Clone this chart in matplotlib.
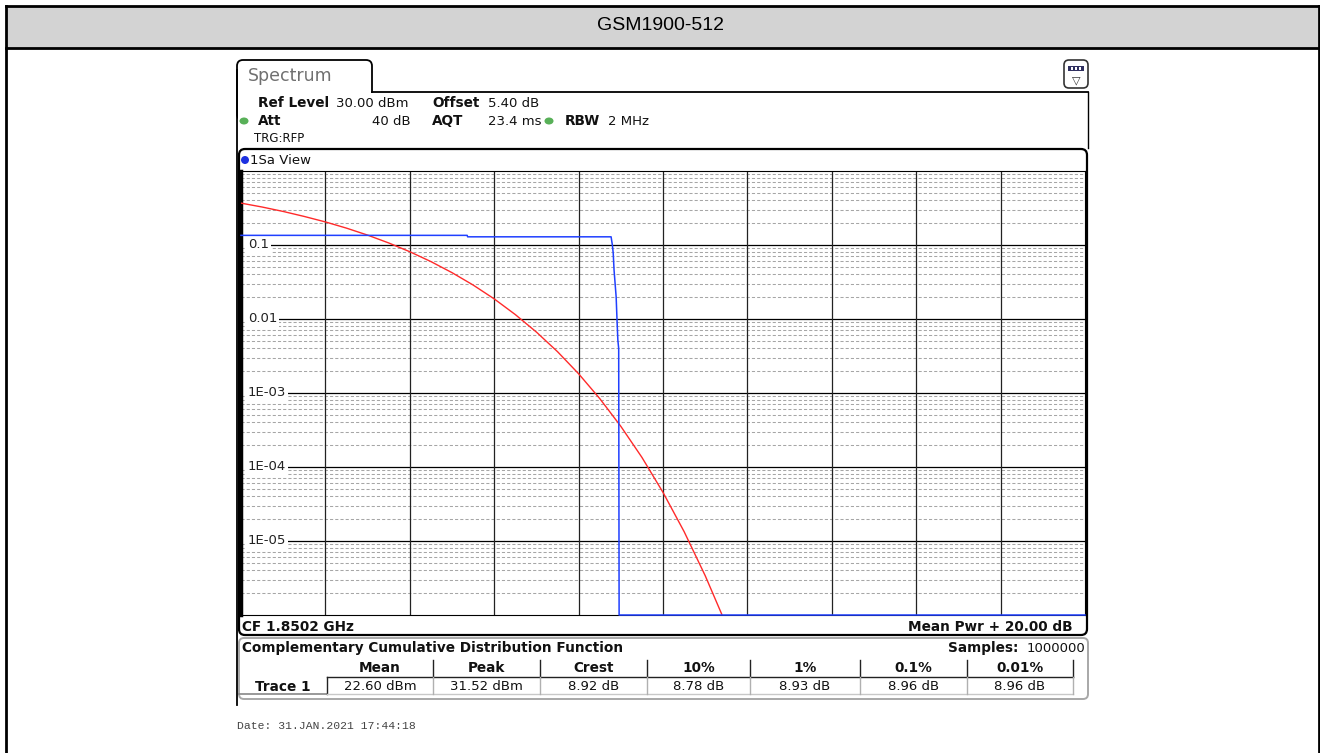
import numpy as np
import matplotlib
matplotlib.use('Agg')
import matplotlib.pyplot as plt
from matplotlib.patches import FancyBboxPatch, Rectangle, Ellipse

# ---- data ----
title = 'GSM1900-512'
x_span_db = 20.0  # Mean Pwr + 20.00 dB across 10 divisions

# gaussian reference curve (red), dB above mean vs probability
gauss_db = [0.0, 0.5, 1.0, 1.5, 2.0, 2.5, 3.0, 3.5, 4.0, 4.5, 5.0, 5.5, 6.0,
            6.5, 7.0, 7.5, 8.0, 8.5, 9.0, 9.5, 10.0, 10.5, 11.0, 11.4]
gauss_p = [0.368, 0.326, 0.284, 0.243, 0.205, 0.169, 0.136, 0.1066, 0.0811,
           0.0597, 0.0423, 0.0288, 0.0187, 0.01148, 0.00666, 0.00362, 0.00182,
           0.000842, 0.000355, 0.000135, 4.54e-05, 1.34e-05, 3.4e-06, 1.0e-06]

# measured trace (blue)
trace_db = [0.0, 5.36, 5.37, 8.77, 8.80, 8.82, 8.84, 8.89, 8.91, 8.93, 8.95, 8.96, 20.0]
trace_p = [0.135, 0.135, 0.129, 0.129, 0.100, 0.078, 0.046, 0.0198, 0.0098,
           0.0052, 0.0040, 1e-06, 1e-06]

ytick_vals = [0.1, 0.01, 1e-3, 1e-4, 1e-5]
ytick_text = ['0.1', '0.01', '1E-03', '1E-04', '1E-05']

col_names = ['Mean', 'Peak', 'Crest', '10%', '1%', '0.1%', '0.01%']
col_values = ['22.60 dBm', '31.52 dBm', '8.92 dB', '8.78 dB', '8.93 dB', '8.96 dB', '8.96 dB']
col_edges = [327, 433, 540, 647, 750, 860, 967, 1073]

W, H = 1320, 753
fig = plt.figure(figsize=(W / 100, H / 100), dpi=100)
cv = fig.add_axes([0, 0, 1, 1])
cv.set_xlim(0, W)
cv.set_ylim(H, 0)
cv.axis('off')

fs = 9.8
bold = dict(fontsize=fs, fontweight='bold', color='#111111', va='center', family='DejaVu Sans')
norm = dict(fontsize=fs - 0.3, color='#111111', va='center', family='DejaVu Sans')

# outer frame and title bar
cv.add_patch(Rectangle((6, 6), 1313, 42, facecolor='#d3d3d3', edgecolor='none'))
cv.plot([6, 1319], [6, 6], color='black', lw=2)
cv.plot([6, 1319], [48, 48], color='black', lw=2)
cv.plot([6, 6], [6, 760], color='black', lw=2)
cv.plot([1319, 1319], [6, 760], color='black', lw=2)
cv.text(660, 25, title, fontsize=14, ha='center', va='center', family='Liberation Sans')

# spectrum tab
cv.add_patch(FancyBboxPatch((237, 60), 135, 60, boxstyle='round,pad=0,rounding_size=6',
                            facecolor='white', edgecolor='black', lw=1.3))
cv.add_patch(Rectangle((238, 93), 850, 40, facecolor='white', edgecolor='none'))
cv.plot([372, 1088], [92, 92], color='black', lw=1.3)
cv.plot([237, 237], [70, 705], color='black', lw=1.3)
cv.plot([1088, 1088], [92, 148], color='black', lw=1.0)
cv.text(248, 76, 'Spectrum', fontsize=12.5, color='#707070', va='center', family='DejaVu Sans')

# top right icon
cv.add_patch(FancyBboxPatch((1064, 60), 24, 28, boxstyle='round,pad=0,rounding_size=5',
                            facecolor='white', edgecolor='#333333', lw=1.2))
cv.add_patch(Rectangle((1068, 66), 16, 5, facecolor='#303060', edgecolor='none'))
for xx in (1071, 1075, 1079):
    cv.add_patch(Rectangle((xx, 67), 2, 3, facecolor='white', edgecolor='none'))
cv.text(1076, 80, '\u25bd', fontsize=8, ha='center', va='center', color='#333333')

# header settings
cv.text(258, 103, 'Ref Level', **bold)
cv.text(336, 103, '30.00 dBm', **norm)
cv.text(432, 103, 'Offset', **bold)
cv.text(488, 103, '5.40 dB', **norm)
cv.add_patch(Ellipse((244, 121), 9, 7, facecolor='#58b058', edgecolor='none'))
cv.text(258, 121, 'Att', **bold)
cv.text(411, 121, '40 dB', ha='right', **norm)
cv.text(432, 121, 'AQT', **bold)
cv.text(488, 121, '23.4 ms', **norm)
cv.add_patch(Ellipse((549, 121), 9, 7, facecolor='#58b058', edgecolor='none'))
cv.text(565, 121, 'RBW', **bold)
cv.text(608, 121, '2 MHz', **norm)
cv.text(254, 138, 'TRG:RFP', fontsize=8.5, color='#111111', va='center', family='DejaVu Sans')

# plot window frame
cv.add_patch(FancyBboxPatch((239, 149), 848, 486, boxstyle='round,pad=0,rounding_size=6',
                            facecolor='white', edgecolor='black', lw=1.6))
cv.add_patch(Ellipse((245, 160), 8, 8, facecolor='#1c30e0', edgecolor='none'))
cv.text(250, 160, '1Sa View', **norm)
cv.text(242, 627, 'CF 1.8502 GHz', **bold)
cv.text(1073, 627, 'Mean Pwr + 20.00 dB', ha='right', **bold)

# result table
cv.add_patch(FancyBboxPatch((239, 638), 849, 61, boxstyle='round,pad=0,rounding_size=5',
                            facecolor='white', edgecolor='#a8a8a8', lw=1.4))
cv.text(242, 648, 'Complementary Cumulative Distribution Function', **bold)
cv.text(1085, 648, '1000000', ha='right', **norm)
cv.text(1018, 648, 'Samples:', ha='right', **bold)
cv.plot([327, 1073], [677, 677], color='#222222', lw=1.0)
cv.plot([239, 327], [694, 694], color='#888888', lw=1.2)
cv.plot([327, 327], [677, 694], color='#222222', lw=1.0)
cv.plot([327, 1073], [694, 694], color='#c8c8c8', lw=1.0)
cv.text(283, 687, 'Trace 1', ha='center', **bold)
for i in range(len(col_names)):
    xl, xr = col_edges[i], col_edges[i + 1]
    cv.text((xl + xr) / 2, 668, col_names[i], ha='center', **bold)
    cv.text((xl + xr) / 2, 686, col_values[i], ha='center', **norm)
    cv.plot([xr, xr], [660, 677], color='#222222', lw=1.0)
    cv.plot([xr, xr], [677, 694], color='#b0b0b0', lw=1.0)

cv.text(237, 726, 'Date: 31.JAN.2021 17:44:18', fontsize=8.2, color='#444444',
        va='center', family='Liberation Mono')

# ---- the CCDF plot ----
L, R, T, B = 241, 1085, 171, 615
ax = fig.add_axes([L / W, 1 - B / H, (R - L) / W, (B - T) / H])
ax.set_yscale('log')
ax.set_xlim(0, x_span_db)
ax.set_ylim(1e-6, 1)
ax.set_xticks([])
ax.set_yticks([])
ax.minorticks_off()
for s in ax.spines.values():
    s.set_color('black')
    s.set_linewidth(0.8)
ax.spines['left'].set_linewidth(2.5)

for dec in range(-6, 0):
    for m in range(2, 10):
        ax.axhline(m * 10.0 ** dec, color='#a6a6a6', lw=0.75, ls=(0, (3, 2)), zorder=1)
for dec in range(-5, 0):
    ax.axhline(10.0 ** dec, color='black', lw=0.9, zorder=2)
for xv in np.arange(2, x_span_db, 2):
    ax.axvline(xv, color='#222222', lw=0.9, zorder=2)

ytr = ax.get_yaxis_transform()
for v, t in zip(ytick_vals, ytick_text):
    # blank the major line between the frame and the label
    ax.add_patch(Rectangle((0.0, v / 1.08), 0.012, v * 1.08 - v / 1.08, transform=ytr,
                           facecolor='white', edgecolor='none', zorder=2.5))
    ax.text(0.008, v, t, transform=ytr, fontsize=9.5, va='center',
            color='#222222', family='DejaVu Sans', zorder=3,
            bbox=dict(facecolor='white', edgecolor='none', pad=1.5))

ax.plot(gauss_db, gauss_p, color='#ff2a2a', lw=1.0, zorder=4)
ax.plot(trace_db, trace_p, color='#2040ff', lw=1.1, zorder=5, clip_on=False)

fig.savefig('out.png', dpi=100)
